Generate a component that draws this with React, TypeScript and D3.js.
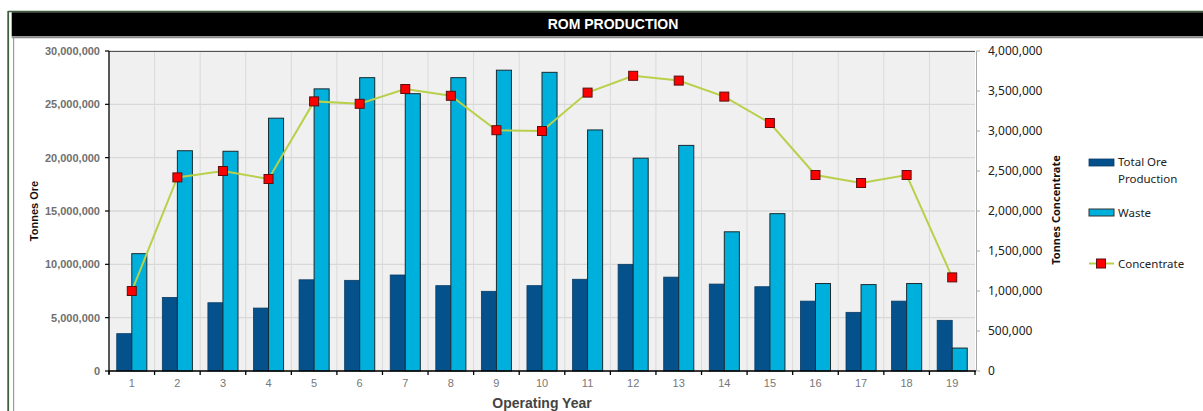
import React from "react";
import * as d3 from "d3";

const years = ["1","2","3","4","5","6","7","8","9","10","11","12","13","14","15","16","17","18","19"];
const totalOre = [3.5e6, 6.9e6, 6.4e6, 5.9e6, 8.55e6, 8.5e6, 9.0e6, 8.0e6, 7.47e6, 8.0e6, 8.6e6, 10.0e6, 8.8e6, 8.15e6, 7.9e6, 6.55e6, 5.5e6, 6.55e6, 4.75e6];
const waste = [11.0e6, 20.65e6, 20.6e6, 23.7e6, 26.45e6, 27.5e6, 26.0e6, 27.5e6, 28.2e6, 28.0e6, 22.6e6, 19.95e6, 21.15e6, 13.05e6, 14.75e6, 8.2e6, 8.1e6, 8.2e6, 2.15e6];
const concentrate = [1.0e6, 2.42e6, 2.5e6, 2.4e6, 3.37e6, 3.34e6, 3.525e6, 3.44e6, 3.01e6, 3.0e6, 3.48e6, 3.69e6, 3.63e6, 3.43e6, 3.1e6, 2.45e6, 2.35e6, 2.45e6, 1.17e6];
const leftTicks = [0, 5e6, 10e6, 15e6, 20e6, 25e6, 30e6];
const rightTicks = [0, 5e5, 1e6, 1.5e6, 2e6, 2.5e6, 3e6, 3.5e6, 4e6];

const TITLE = "ROM PRODUCTION";
const X_TITLE = "Operating Year";
const Y_LEFT_TITLE = "Tonnes Ore";
const Y_RIGHT_TITLE = "Tonnes Concentrate";
const legendLabels = ["Total Ore", "Production", "Waste", "Concentrate"];

const C_ORE = "#04518c";
const C_WASTE = "#00b0dc";
const C_LINE = "#b8d04a";
const C_MARK = "#ff0000";

export default function App() {
  const W = 1203, H = 411;
  const L = 109, R = 975, T = 51, B = 371;
  const fmt = d3.format(",");

  const x = d3.scaleBand<string>().domain(years).range([L, R]).padding(0);
  const bw = x.bandwidth();
  const sub = d3.scaleBand<string>().domain(["ore", "waste"]).range([bw * 0.17, bw * 0.83]).padding(0);
  const yL = d3.scaleLinear().domain([0, 30e6]).range([B, T]);
  const yR = d3.scaleLinear().domain([0, 4e6]).range([B, T]);

  const line = d3.line<number>()
    .x((_, i) => (x(years[i]) as number) + bw / 2)
    .y((d) => yR(d));

  const boundaries = years.map((y) => x(y) as number).concat([R]);

  return (
    <svg width={W} height={H} style={{ position: "absolute", left: 0, top: 0, display: "block" }}>
      <rect x={0} y={0} width={W} height={H} fill="#ffffff" />
      {/* outer frame */}
      <line x1={8} y1={11.5} x2={W} y2={11.5} stroke="#3f5f3f" strokeWidth={1.5} />
      <line x1={8.2} y1={11} x2={8.2} y2={H} stroke="#3f5f3f" strokeWidth={1.8} />
      <rect x={11.7} y={12.3} width={W - 11.7} height={23.9} fill="#000" />
      <line x1={11.7} y1={37.3} x2={W} y2={37.3} stroke="#8a8a8a" strokeWidth={2} />
      <line x1={13.6} y1={38} x2={13.6} y2={H} stroke="#9a9a9a" strokeWidth={1.2} />
      <text x={613} y={29} textAnchor="middle" fill="#fff" fontFamily="Liberation Sans, Arial, sans-serif" fontWeight="bold" fontSize={14}>{TITLE}</text>

      {/* plot background */}
      <rect x={L} y={T} width={R - L} height={B - T} fill="#f0f0f0" />
      {/* grid */}
      {leftTicks.map((t) => (
        <line key={"h" + t} x1={L} x2={R} y1={yL(t)} y2={yL(t)} stroke="#d8d8d8" strokeWidth={1.3} />
      ))}
      {boundaries.slice(1, -1).map((b, i) => (
        <line key={"v" + i} x1={b} x2={b} y1={T} y2={B} stroke="#dadada" strokeWidth={1} />
      ))}
      <line x1={L} x2={R} y1={T + 0.5} y2={T + 0.5} stroke="#555" strokeWidth={1} />

      {/* bars */}
      {years.map((yr, i) => {
        const bx = x(yr) as number;
        return (
          <g key={"b" + yr}>
            <rect x={bx + (sub("ore") as number)} y={yL(totalOre[i])} width={sub.bandwidth()} height={B - yL(totalOre[i])} fill={C_ORE} stroke="#0a3c66" strokeWidth={0.8} />
            <rect x={bx + (sub("waste") as number)} y={yL(waste[i])} width={sub.bandwidth()} height={B - yL(waste[i])} fill={C_WASTE} stroke="#1a2a30" strokeWidth={1} />
          </g>
        );
      })}

      {/* concentrate line */}
      <path d={line(concentrate) || ""} fill="none" stroke={C_LINE} strokeWidth={2} />
      {concentrate.map((v, i) => (
        <rect key={"m" + i} x={(x(years[i]) as number) + bw / 2 - 4.5} y={yR(v) - 4.5} width={9} height={9} fill={C_MARK} stroke="#5a1010" strokeWidth={1} />
      ))}

      {/* left axis */}
      <line x1={L} x2={L} y1={T} y2={B + 3} stroke="#000" strokeWidth={1.3} />
      {leftTicks.map((t) => (
        <g key={"lt" + t}>
          <line x1={L - 4} x2={L} y1={yL(t)} y2={yL(t)} stroke="#000" strokeWidth={1.2} />
          <text x={L - 9} y={yL(t) + 4} textAnchor="end" fill="#707070" fontFamily="Liberation Sans, Arial, sans-serif" fontWeight="bold" fontSize={11}>{fmt(t)}</text>
        </g>
      ))}
      <text transform={`translate(38,${(T + B) / 2}) rotate(-90)`} textAnchor="middle" fill="#111" fontFamily="Liberation Sans, Arial, sans-serif" fontWeight="bold" fontSize={11}>{Y_LEFT_TITLE}</text>

      {/* bottom axis */}
      <line x1={L} x2={R + 1} y1={B} y2={B} stroke="#000" strokeWidth={1.5} />
      {boundaries.map((b, i) => (
        <line key={"bt" + i} x1={b} x2={b} y1={B} y2={B + 4} stroke="#000" strokeWidth={1.3} />
      ))}
      {years.map((yr) => (
        <text key={"xl" + yr} x={(x(yr) as number) + bw / 2} y={387} textAnchor="middle" fill="#777" fontFamily="Liberation Sans, Arial, sans-serif" fontSize={11}>{yr}</text>
      ))}
      <text x={(L + R) / 2} y={408} textAnchor="middle" fill="#444" fontFamily="Liberation Sans, Arial, sans-serif" fontWeight="bold" fontSize={14}>{X_TITLE}</text>

      {/* right axis */}
      <line x1={R + 1.5} x2={R + 1.5} y1={T} y2={B} stroke="#a8a8a8" strokeWidth={1} />
      {rightTicks.map((t) => (
        <g key={"rt" + t}>
          <line x1={R + 1.5} x2={R + 5} y1={yR(t)} y2={yR(t)} stroke="#a8a8a8" strokeWidth={1} />
          <text x={988} y={yR(t) + 4} textAnchor="start" fill="#222" fontFamily="Noto Sans, sans-serif" fontSize={12}>{fmt(t)}</text>
        </g>
      ))}
      <text transform={`translate(1060,210) rotate(-90)`} textAnchor="middle" fill="#111" fontFamily="Noto Sans, sans-serif" fontWeight="bold" fontSize={11}>{Y_RIGHT_TITLE}</text>

      {/* legend */}
      <rect x={1089} y={159} width={25} height={7} fill={C_ORE} stroke="#0a3c66" strokeWidth={0.8} />
      <text x={1118} y={166} fill="#222" fontFamily="Noto Sans, sans-serif" fontSize={11.5}>{legendLabels[0]}</text>
      <text x={1118} y={183} fill="#222" fontFamily="Noto Sans, sans-serif" fontSize={11.5}>{legendLabels[1]}</text>
      <rect x={1089} y={209} width={25} height={7} fill={C_WASTE} stroke="#333" strokeWidth={1} />
      <text x={1118} y={216.5} fill="#222" fontFamily="Noto Sans, sans-serif" fontSize={11.5}>{legendLabels[2]}</text>
      <line x1={1089} x2={1114} y1={263.5} y2={263.5} stroke={C_LINE} strokeWidth={2} />
      <rect x={1096.5} y={259} width={9} height={9} fill={C_MARK} stroke="#5a1010" strokeWidth={1} />
      <text x={1118} y={268} fill="#222" fontFamily="Noto Sans, sans-serif" fontSize={11.5}>{legendLabels[3]}</text>
    </svg>
  );
}
